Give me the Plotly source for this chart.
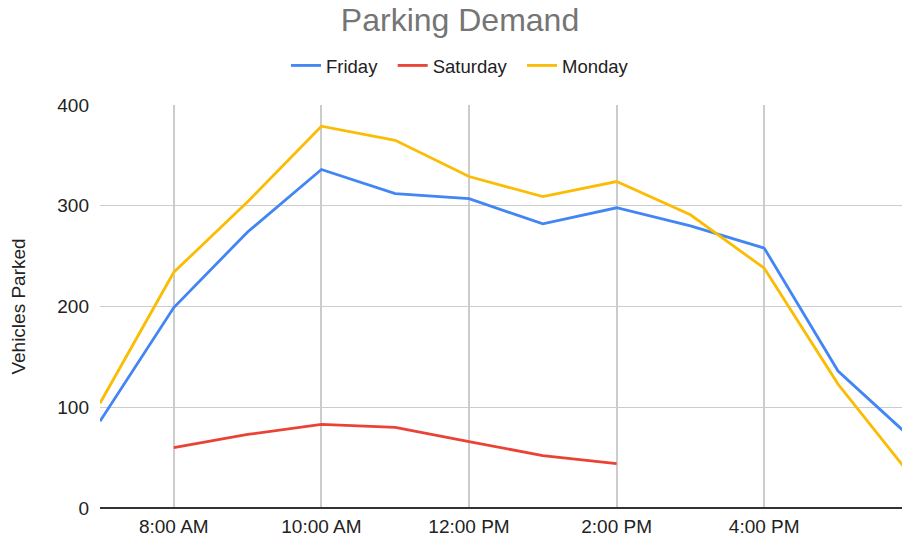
import plotly.graph_objects as go

# ---- data ----
hours = ["07:00", "08:00", "09:00", "10:00", "11:00", "12:00",
         "13:00", "14:00", "15:00", "16:00", "17:00", "18:00"]
friday = [86, 199, 274, 336, 312, 307, 282, 298, 280, 258, 136, 69]
monday = [104, 234, 304, 379, 365, 329, 309, 324, 291, 238, 123, 31]
saturday_hours = ["08:00", "09:00", "10:00", "11:00", "12:00", "13:00", "14:00"]
saturday = [60, 73, 83, 80, 66, 52, 44]

tick_hours = ["08:00", "10:00", "12:00", "14:00", "16:00"]
tick_labels = ["8:00 AM", "10:00 AM", "12:00 PM", "2:00 PM", "4:00 PM"]
y_ticks = [0, 100, 200, 300, 400]

DAY = "2024-01-05 "
def ts(lst):
    return [DAY + h for h in lst]

series = [
    ("Friday", hours, friday, "#4285F4"),
    ("Saturday", saturday_hours, saturday, "#EA4335"),
    ("Monday", hours, monday, "#FBBC04"),
]

PAD = "\u00a0\u00a0"  # extra gap between legend entries
fig = go.Figure()
for name, xs, ys, color in series:
    fig.add_trace(go.Scatter(
        x=ts(xs), y=ys, name=name + PAD, mode="lines",
        line=dict(color=color, width=2.8),
    ))

FONT = "Liberation Sans, Arial, sans-serif"
TEXT = "#222222"
fig.update_layout(
    width=902, height=540,
    margin=dict(l=100, r=0, t=105, b=31.5),
    paper_bgcolor="white", plot_bgcolor="white",
    font=dict(family=FONT, size=19, color=TEXT),
    title=dict(text="Parking Demand", xref="container", x=460 / 902,
               xanchor="center", y=1 - 20 / 540, yanchor="middle",
               font=dict(family=FONT, size=32, color="#757575")),
    legend=dict(orientation="h", x=(465 - 100) / 802,
                xanchor="center", y=1.097, yanchor="middle",
                font=dict(family=FONT, size=18.5, color=TEXT),
                itemwidth=30, tracegroupgap=0),
    showlegend=True,
)
fig.update_xaxes(
    type="date",
    range=[DAY + "07:00", DAY + "17:52"],
    tickvals=ts(tick_hours), ticktext=tick_labels, tickangle=0,
    showgrid=True, gridcolor="#cccccc", gridwidth=1.5,
    showline=False, zeroline=False, ticks="", ticklabelstandoff=5,
    tickfont=dict(family=FONT, size=19, color=TEXT),
)
fig.update_yaxes(
    range=[0, 400], tickvals=y_ticks,
    showgrid=True, gridcolor="#cccccc", gridwidth=1.3,
    zeroline=True, zerolinecolor="#333333", zerolinewidth=1.5,
    showline=False, ticks="", ticklabelstandoff=10,
    tickfont=dict(family=FONT, size=19, color=TEXT),
    title=dict(text="Vehicles Parked", standoff=26,
               font=dict(family=FONT, size=19, color=TEXT)),
)

fig.write_html("out.html", config={"displayModeBar": False},
               post_script="document.body.style.margin='0';document.body.style.overflow='hidden';")
